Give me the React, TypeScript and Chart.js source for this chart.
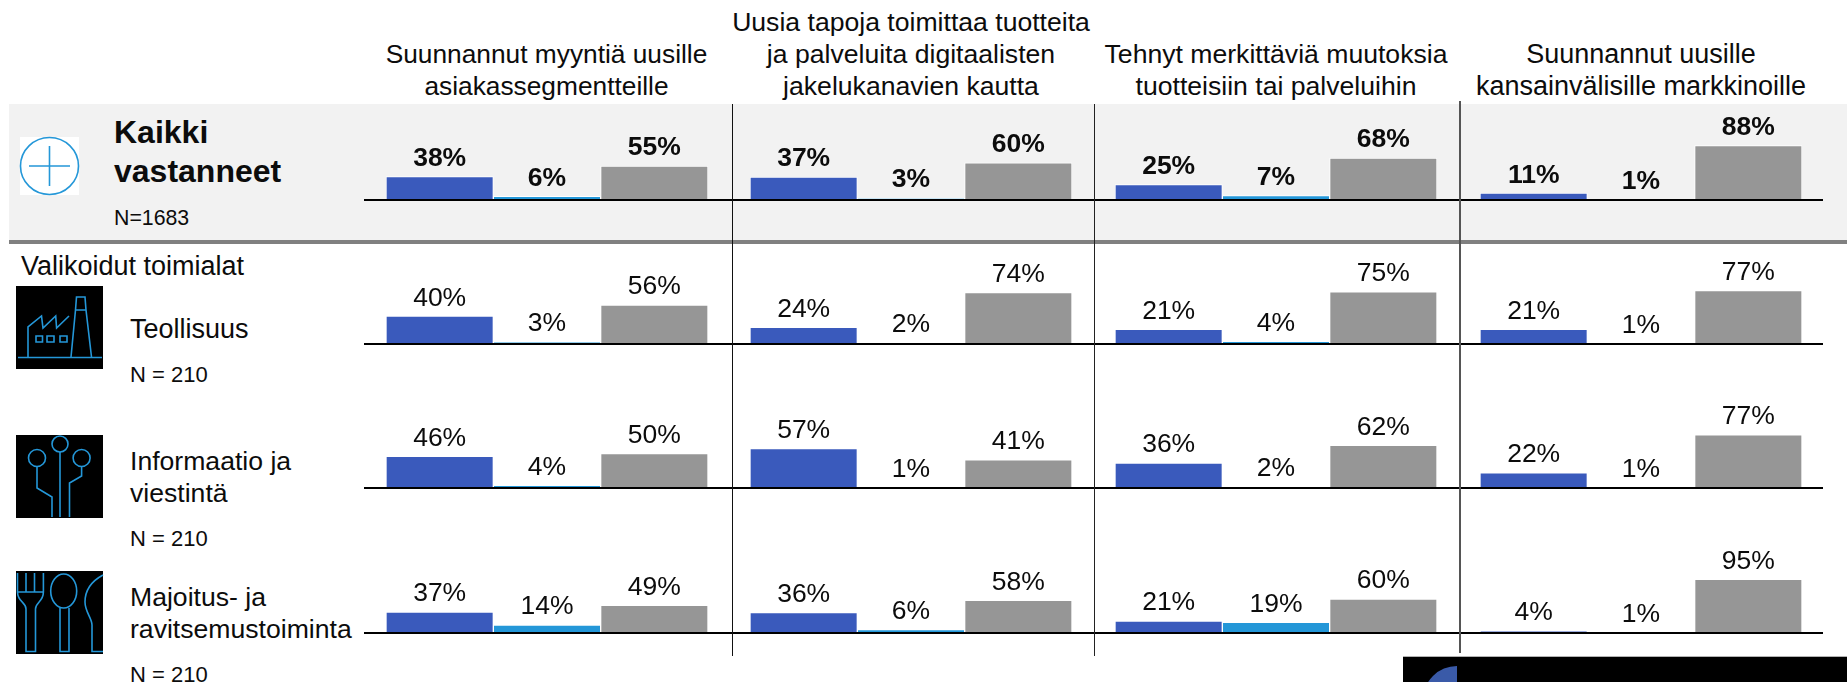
import React, { useEffect, useRef } from "react";
import { Chart, registerables } from "chart.js";

Chart.register(...registerables);

const answers = ["Kyllä", "Ei osaa sanoa", "Ei"];
const questions = [
  ["Suunnannut myyntiä uusille", "asiakassegmentteille"],
  ["Uusia tapoja toimittaa tuotteita", "ja palveluita digitaalisten", "jakelukanavien kautta"],
  ["Tehnyt merkittäviä muutoksia", "tuotteisiin tai palveluihin"],
  ["Suunnannut uusille", "kansainvälisille markkinoille"],
];
// rows: Kaikki vastanneet, Teollisuus, Informaatio ja viestintä, Majoitus- ja ravitsemustoiminta
const yesValues = [
  [38, 37, 25, 11],
  [40, 24, 21, 21],
  [46, 57, 36, 22],
  [37, 36, 21, 4],
];
const unsureValues = [
  [6, 3, 7, 1],
  [3, 2, 4, 1],
  [4, 1, 2, 1],
  [14, 6, 19, 1],
];
const noValues = [
  [55, 60, 68, 88],
  [56, 74, 75, 77],
  [50, 41, 62, 77],
  [49, 58, 60, 95],
];

const BAR_COLORS = ["#3a5abc", "#2497d8", "#969696"];
const FONT = '"Liberation Sans", Arial, sans-serif';
const COL_CENTERS = [546.5, 911, 1276, 1641];
const HEADER_SIZES = [26.3, 26.6, 26.6, 27];
const ROW_BASES = [199.5, 344, 488.3, 632.7];
const ROW_SCALES = [0.618, 0.695, 0.69, 0.565];
const CANVAS_W = 322;
const CANVAS_H = 100;

const labelPlugin = {
  id: "pctLabels",
  afterDatasetsDraw(chart: any, _a: any, opts: any) {
    const ctx = chart.ctx;
    const meta = chart.getDatasetMeta(0);
    ctx.save();
    ctx.font = `${opts.bold ? "bold " : ""}26.5px ${FONT}`;
    ctx.fillStyle = "#0c0c0c";
    ctx.textAlign = "center";
    ctx.textBaseline = "middle";
    meta.data.forEach((bar: any, i: number) => {
      const v = chart.data.datasets[0].data[i];
      ctx.fillText(`${v}%`, bar.x, bar.y - 18);
    });
    ctx.restore();
  },
};

function Cell({ row, col }: { row: number; col: number }) {
  const ref = useRef<HTMLCanvasElement>(null);
  useEffect(() => {
    const chart = new Chart(ref.current as HTMLCanvasElement, {
      type: "bar",
      data: {
        labels: answers,
        datasets: [
          {
            data: [yesValues[row][col], unsureValues[row][col], noValues[row][col]],
            backgroundColor: BAR_COLORS,
            borderColor: "#ffffff",
            borderWidth: 1,
            barPercentage: 1,
            categoryPercentage: 1,
          },
        ],
      },
      options: {
        responsive: false,
        animation: false,
        layout: { padding: 0 },
        events: [],
        scales: {
          x: { display: false },
          y: { display: false, min: 0, max: CANVAS_H / ROW_SCALES[row] },
        },
        plugins: {
          legend: { display: false },
          tooltip: { enabled: false },
          pctLabels: { bold: row === 0 },
        } as any,
      },
      plugins: [labelPlugin],
    });
    return () => chart.destroy();
  }, [row, col]);
  return (
    <canvas
      ref={ref}
      width={CANVAS_W}
      height={CANVAS_H}
      style={{
        position: "absolute",
        left: COL_CENTERS[col] - CANVAS_W / 2,
        top: ROW_BASES[row] - CANVAS_H,
        width: CANVAS_W,
        height: CANVAS_H,
      }}
    />
  );
}

function Txt({ x, y, size = 26.6, bold = false, center = false, children }: any) {
  return (
    <div
      style={{
        position: "absolute",
        left: center ? x - 250 : x,
        width: center ? 500 : undefined,
        top: y - 20,
        height: 40,
        lineHeight: "40px",
        fontSize: size,
        fontWeight: bold ? 700 : 400,
        fontFamily: FONT,
        color: "#0c0c0c",
        textAlign: center ? "center" : "left",
        whiteSpace: "nowrap",
      }}
    >
      {children}
    </div>
  );
}

const ICON = "#2497d8";

function Icons() {
  const s = { fill: "none", stroke: ICON, strokeWidth: 1.6 } as any;
  return (
    <svg width={1847} height={682} style={{ position: "absolute", left: 0, top: 0 }}>
      <rect x={20} y={137} width={59} height={58} fill="#fff" />
      <ellipse cx={49.5} cy={166} rx={29} ry={28.5} {...s} />
      <path d="M29 166H70M49.5 146V186" {...s} />

      <rect x={16} y={286} width={87} height={83} fill="#000" />
      <path d="M18 357.5H102M28 357V327L41.5 316L43 328L55.7 316L56.6 328L69 316M71 357L75.5 310L76.5 297H85L86 310L91.5 357M75.5 310H86" {...s} />
      <path d="M36 336H42.5V342H36ZM47 336H54V342H47ZM60 336H67V342H60Z" {...s} />

      <rect x={16} y={435} width={87} height={83} fill="#000" />
      <circle cx={60} cy={444} r={8} {...s} />
      <circle cx={37} cy={458} r={8.5} {...s} />
      <circle cx={81.6} cy={458} r={8.5} {...s} />
      <path d="M60 452V517M37 466.5V488L52 497V517M81.6 466.5V476L69.5 483V517" {...s} />

      <rect x={16} y={571} width={87} height={83} fill="#000" />
      <path d="M17.5 573V592C17.5 602 26 602 26 609V651.5H35.5V609C35.5 602 43.4 602 43.4 592V573M26 573V592M34.5 573V592M17.5 592H43.4" {...s} />
      <ellipse cx={63.7} cy={591} rx={13} ry={17} {...s} />
      <path d="M60 608V651.5H69V608" {...s} />
      <path d="M103 575C90 582 85 592 85 602C85 612 92 618 92 625V651.5H103" {...s} />

      <rect x={1403} y={656.7} width={444} height={26} fill="#000" />
      <path d="M1457 666A34 34 0 0 0 1423 700V682H1457Z" fill="#3a5aa8" />
    </svg>
  );
}

function Rule({ x, y, w, h, color }: any) {
  return <div style={{ position: "absolute", left: x, top: y, width: w, height: h, background: color }} />;
}

export default function App() {
  return (
    <div
      style={{
        position: "absolute",
        left: 0,
        top: 0,
        width: 1847,
        height: 682,
        overflow: "hidden",
        background: "#fff",
      }}
    >
      <Rule x={9} y={104} w={1838} h={136} color="#f2f2f2" />
      <Rule x={9} y={240} w={1838} h={4} color="#808080" />
      <Icons />

      {questions.map((lines, c) =>
        lines.map((ln, i) => (
          <Txt key={`${c}-${i}`} x={COL_CENTERS[c]} y={86 - (lines.length - 1 - i) * 32} size={HEADER_SIZES[c]} center>
            {ln}
          </Txt>
        ))
      )}

      <Txt x={114} y={132} size={32} bold>Kaikki</Txt>
      <Txt x={114} y={171} size={32} bold>vastanneet</Txt>
      <Txt x={114} y={218} size={21.3}>N=1683</Txt>
      <Txt x={21} y={266} size={27}>Valikoidut toimialat</Txt>
      <Txt x={130} y={329} size={27}>Teollisuus</Txt>
      <Txt x={130} y={374.5} size={22}>N = 210</Txt>
      <Txt x={130} y={461}>Informaatio ja</Txt>
      <Txt x={130} y={493}>viestintä</Txt>
      <Txt x={130} y={538.5} size={22}>N = 210</Txt>
      <Txt x={130} y={597}>Majoitus- ja</Txt>
      <Txt x={130} y={629}>ravitsemustoiminta</Txt>
      <Txt x={130} y={674.5} size={22}>N = 210</Txt>

      {ROW_BASES.map((_, r) =>
        COL_CENTERS.map((__, c) => <Cell key={`${r}-${c}`} row={r} col={c} />)
      )}

      {ROW_BASES.map((b) => (
        <Rule key={b} x={364} y={b - 1} w={1459} h={2} color="#000" />
      ))}
      <Rule x={732} y={104} w={1} h={552} color="#111" />
      <Rule x={1094} y={104} w={1} h={552} color="#222" />
      <Rule x={1458.5} y={101} w={2} h={552} color="#555" />
    </div>
  );
}
